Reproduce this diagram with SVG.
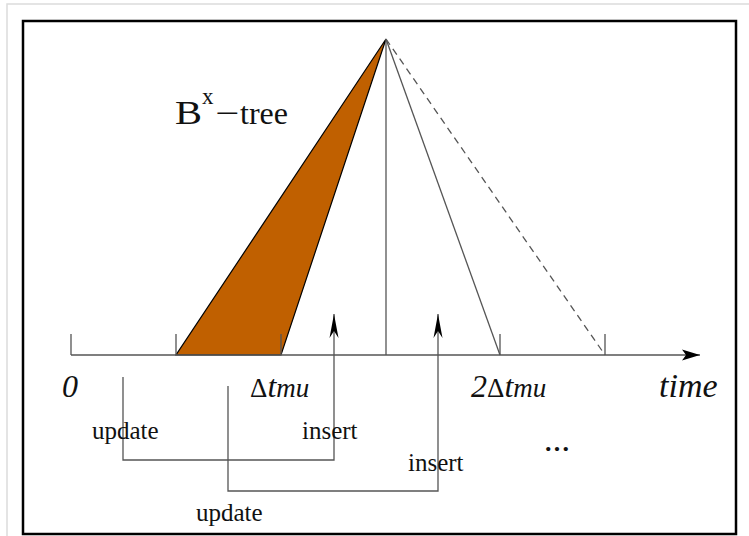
<svg xmlns="http://www.w3.org/2000/svg" width="749" height="536" viewBox="0 0 749 536">
<style>
.ln{stroke:#555;stroke-width:1.3;fill:none}
.t{font-family:"Liberation Serif","Times New Roman",serif;fill:#111}
.it{font-style:italic}
</style>
<defs>
<marker id="ahUp" markerUnits="userSpaceOnUse" markerWidth="30" markerHeight="14" viewBox="-26 -7 30 14" refX="0" refY="0" orient="auto">
<path d="M0,0 L-24,-4.5 L-17,0 L-24,4.5 Z" fill="#000"/>
</marker>
<marker id="ahAx" markerUnits="userSpaceOnUse" markerWidth="24" markerHeight="14" viewBox="-20 -7 24 14" refX="0" refY="0" orient="auto">
<path d="M0,0 L-18,-5.5 L-14,0 L-18,5.5 Z" fill="#000"/>
</marker>
</defs>
<rect width="749" height="536" fill="#fff"/>
<path d="M7,536 V4 H749" stroke="#dcdcdc" stroke-width="1.5" fill="none"/>
<rect x="23" y="21" width="713" height="513" fill="none" stroke="#000" stroke-width="2.5"/>

<g id="tree">
<polygon points="176,355 281,355 386,39" fill="#c06000" stroke="#000" stroke-width="1.2"/>
<line class="ln" x1="386" y1="39" x2="386" y2="355"/>
<line class="ln" x1="386" y1="39" x2="500" y2="355" stroke="#333"/>
<line class="ln" x1="386" y1="39" x2="605" y2="355" stroke-dasharray="7,5"/>
<text class="t" x="175" y="124" font-size="34" textLength="27" lengthAdjust="spacingAndGlyphs">B</text>
<text class="t" x="202" y="104" font-size="23">x</text>
<text class="t" x="215" y="124" font-size="32" textLength="24" lengthAdjust="spacingAndGlyphs">−</text>
<text class="t" x="240" y="124" font-size="32">tree</text>
</g>

<g id="axis">
<line class="ln" x1="71" y1="355" x2="700" y2="355" marker-end="url(#ahAx)"/>
<path class="ln" d="M71,334 V355 M176,334 V355 M281,334 V355 M500,334 V355 M605,334 V355"/>
<text class="t it" x="62" y="397" font-size="32">0</text>
<text class="t" x="250" y="397"><tspan font-size="27">Δ</tspan><tspan class="it" font-size="32">t</tspan><tspan class="it" font-size="27">mu</tspan></text>
<text class="t" x="471" y="397"><tspan font-size="32" class="it">2</tspan><tspan font-size="27">Δ</tspan><tspan class="it" font-size="32">t</tspan><tspan class="it" font-size="27">mu</tspan></text>
<text class="t it" x="659" y="397" font-size="34">time</text>
</g>

<g id="connectors">
<path class="ln" d="M123,377 V460 H334 V314" marker-end="url(#ahUp)"/>
<path class="ln" d="M228,386 V491 H438 V314" marker-end="url(#ahUp)"/>
</g>

<g id="labels">
<text class="t" x="92" y="439" font-size="25">update</text>
<text class="t" x="302" y="439" font-size="25">insert</text>
<text class="t" x="408" y="471" font-size="25">insert</text>
<text class="t" x="196" y="521" font-size="25">update</text>
<text class="t" x="545" y="451" font-size="26" textLength="24" font-weight="bold">...</text>
</g>
</svg>
